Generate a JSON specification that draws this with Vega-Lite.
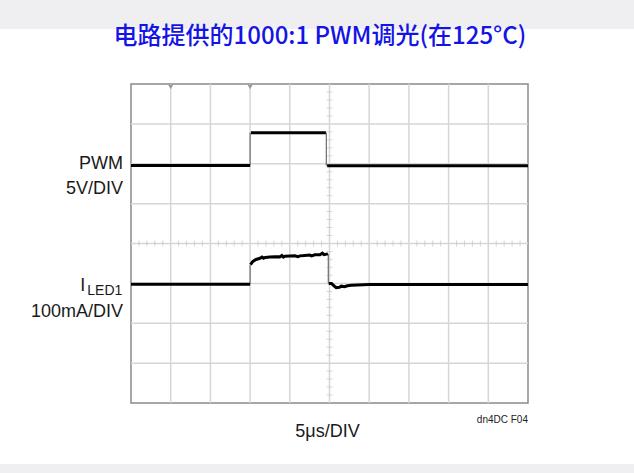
{
  "$schema": "https://vega.github.io/schema/vega-lite/v6.json",
  "autosize": "none",
  "width": 397,
  "height": 319,
  "padding": {"left": 131, "top": 84, "right": 106, "bottom": 70},
  "background": "white",
  "config": {
    "view": {"stroke": "#8a8a8a", "strokeWidth": 1.5}
  },
  "datasets": {
    "traces": [
      {"seg": "pwm_a", "x": 0, "y": 5.956},
      {"seg": "pwm_a", "x": 3.0, "y": 5.956},
      {"seg": "pwm_b", "x": 3.02, "y": 6.78},
      {"seg": "pwm_b", "x": 4.91, "y": 6.78},
      {"seg": "pwm_c", "x": 4.94, "y": 5.952},
      {"seg": "pwm_c", "x": 10, "y": 5.952},
      {"seg": "led_a", "x": 0, "y": 2.977},
      {"seg": "led_a", "x": 3.0, "y": 2.977},
      {"seg": "led_b", "x": 3.01, "y": 3.47},
      {"seg": "led_b", "x": 3.07, "y": 3.55},
      {"seg": "led_b", "x": 3.15, "y": 3.6},
      {"seg": "led_b", "x": 3.25, "y": 3.63},
      {"seg": "led_b", "x": 3.3, "y": 3.66},
      {"seg": "led_b", "x": 3.34, "y": 3.63},
      {"seg": "led_b", "x": 3.38, "y": 3.65},
      {"seg": "led_b", "x": 3.5, "y": 3.66},
      {"seg": "led_b", "x": 3.63, "y": 3.67},
      {"seg": "led_b", "x": 3.75, "y": 3.665},
      {"seg": "led_b", "x": 3.8, "y": 3.7},
      {"seg": "led_b", "x": 3.84, "y": 3.66},
      {"seg": "led_b", "x": 3.88, "y": 3.68},
      {"seg": "led_b", "x": 4.0, "y": 3.685},
      {"seg": "led_b", "x": 4.13, "y": 3.69},
      {"seg": "led_b", "x": 4.2, "y": 3.67},
      {"seg": "led_b", "x": 4.26, "y": 3.69},
      {"seg": "led_b", "x": 4.38, "y": 3.7},
      {"seg": "led_b", "x": 4.5, "y": 3.71},
      {"seg": "led_b", "x": 4.55, "y": 3.69},
      {"seg": "led_b", "x": 4.63, "y": 3.715},
      {"seg": "led_b", "x": 4.76, "y": 3.72},
      {"seg": "led_b", "x": 4.82, "y": 3.76},
      {"seg": "led_b", "x": 4.86, "y": 3.72},
      {"seg": "led_b", "x": 4.96, "y": 3.74},
      {"seg": "led_c", "x": 4.98, "y": 3.0},
      {"seg": "led_c", "x": 5.05, "y": 3.0},
      {"seg": "led_c", "x": 5.12, "y": 2.93},
      {"seg": "led_c", "x": 5.17, "y": 2.89},
      {"seg": "led_c", "x": 5.25, "y": 2.9},
      {"seg": "led_c", "x": 5.3, "y": 2.93},
      {"seg": "led_c", "x": 5.38, "y": 2.915},
      {"seg": "led_c", "x": 5.45, "y": 2.94},
      {"seg": "led_c", "x": 5.55, "y": 2.95},
      {"seg": "led_c", "x": 5.7, "y": 2.96},
      {"seg": "led_c", "x": 6.0, "y": 2.97},
      {"seg": "led_c", "x": 10, "y": 2.972}
    ],
    "edges": [
      {"x": 3.0, "y": 5.956, "y2": 6.78},
      {"x": 4.92, "y": 6.78, "y2": 5.952},
      {"x": 3.0, "y": 2.977, "y2": 3.47},
      {"x": 4.97, "y": 3.74, "y2": 3.0}
    ],
    "gridX": [{"v": 1}, {"v": 2}, {"v": 3}, {"v": 4}, {"v": 5}, {"v": 6}, {"v": 7}, {"v": 8}, {"v": 9}],
    "gridY": [{"v": 1}, {"v": 2}, {"v": 3}, {"v": 4}, {"v": 5}, {"v": 6}, {"v": 7}],
    "minor": [
      {"v": 0.2}, {"v": 0.4}, {"v": 0.6}, {"v": 0.8}, {"v": 1.2}, {"v": 1.4}, {"v": 1.6}, {"v": 1.8},
      {"v": 2.2}, {"v": 2.4}, {"v": 2.6}, {"v": 2.8}, {"v": 3.2}, {"v": 3.4}, {"v": 3.6}, {"v": 3.8},
      {"v": 4.2}, {"v": 4.4}, {"v": 4.6}, {"v": 4.8}, {"v": 5.2}, {"v": 5.4}, {"v": 5.6}, {"v": 5.8},
      {"v": 6.2}, {"v": 6.4}, {"v": 6.6}, {"v": 6.8}, {"v": 7.2}, {"v": 7.4}, {"v": 7.6}, {"v": 7.8},
      {"v": 8.2}, {"v": 8.4}, {"v": 8.6}, {"v": 8.8}, {"v": 9.2}, {"v": 9.4}, {"v": 9.6}, {"v": 9.8}
    ],
    "trig": [{"x": 1}, {"x": 3}],
    "leftLabels": [
      {"t": "PWM", "y": 6.0},
      {"t": "5V/DIV", "y": 5.367},
      {"t": "100mA/DIV", "y": 2.29}
    ]
  },
  "layer": [
    {
      "data": {"values": [{"b": "top"}]},
      "mark": {"type": "rect", "color": "#efeff2", "clip": false},
      "encoding": {
        "x": {"datum": -3.31, "type": "quantitative", "scale": {"domain": [0, 10], "nice": false, "zero": false}, "axis": null},
        "x2": {"datum": 12.67},
        "y": {"datum": 10.11, "type": "quantitative", "scale": {"domain": [0, 8], "nice": false, "zero": false}, "axis": null},
        "y2": {"datum": 9.38}
      }
    },
    {
      "data": {"values": [{"b": "bottom"}]},
      "mark": {"type": "rect", "color": "#efeff2", "clip": false},
      "encoding": {
        "x": {"datum": -3.31, "type": "quantitative", "axis": null},
        "x2": {"datum": 12.67},
        "y": {"datum": -1.53, "type": "quantitative", "axis": null},
        "y2": {"datum": -1.76}
      }
    },
    {
      "data": {"name": "gridX"},
      "mark": {"type": "rule", "color": "#d6d6d6", "strokeWidth": 1.5},
      "encoding": {
        "x": {"field": "v", "type": "quantitative", "axis": null}
      }
    },
    {
      "data": {"name": "gridY"},
      "mark": {"type": "rule", "color": "#d6d6d6", "strokeWidth": 1.5},
      "encoding": {
        "y": {"field": "v", "type": "quantitative", "axis": null}
      }
    },
    {
      "data": {"name": "minor"},
      "mark": {"type": "tick", "orient": "vertical", "color": "#c4c4c4", "size": 6, "thickness": 1},
      "encoding": {
        "x": {"field": "v", "type": "quantitative", "axis": null},
        "y": {"datum": 4, "type": "quantitative", "axis": null}
      }
    },
    {
      "data": {"name": "minor"},
      "transform": [{"filter": "datum.v < 8"}],
      "mark": {"type": "tick", "orient": "horizontal", "color": "#c4c4c4", "size": 6, "thickness": 1},
      "encoding": {
        "x": {"datum": 5, "type": "quantitative", "axis": null},
        "y": {"field": "v", "type": "quantitative", "axis": null}
      }
    },
    {
      "data": {"name": "trig"},
      "mark": {"type": "point", "shape": "triangle-down", "filled": true, "color": "#9a9a9a", "size": 30, "opacity": 1},
      "encoding": {
        "x": {"field": "x", "type": "quantitative", "axis": null},
        "y": {"datum": 7.93, "type": "quantitative", "axis": null}
      }
    },
    {
      "data": {"name": "edges"},
      "mark": {"type": "rule", "color": "#6e6e6e", "strokeWidth": 1.2},
      "encoding": {
        "x": {"field": "x", "type": "quantitative", "axis": null},
        "y": {"field": "y", "type": "quantitative", "axis": null},
        "y2": {"field": "y2"}
      }
    },
    {
      "data": {"name": "traces"},
      "mark": {"type": "line", "color": "#000000", "strokeJoin": "miter", "interpolate": "linear"},
      "encoding": {
        "x": {"field": "x", "type": "quantitative", "axis": null},
        "y": {"field": "y", "type": "quantitative", "axis": null},
        "detail": {"field": "seg", "type": "nominal"},
        "strokeWidth": {
          "field": "seg",
          "type": "nominal",
          "scale": {"domain": ["pwm_a", "pwm_b", "pwm_c", "led_a", "led_b", "led_c"], "range": [3, 3, 3, 4, 2, 3]},
          "legend": null
        }
      }
    },
    {
      "data": {"name": "leftLabels"},
      "mark": {"type": "text", "font": "Liberation Sans", "fontSize": 18, "color": "#1a1a1a", "baseline": "middle", "align": "right"},
      "encoding": {
        "x": {"datum": -0.2, "type": "quantitative", "axis": null},
        "y": {"field": "y", "type": "quantitative", "axis": null},
        "text": {"field": "t"}
      }
    },
    {
      "data": {"values": [{"t": "5μs/DIV"}]},
      "mark": {"type": "text", "font": "Liberation Sans", "fontSize": 18, "color": "#1a1a1a", "baseline": "middle", "align": "center"},
      "encoding": {
        "x": {"datum": 4.95, "type": "quantitative", "axis": null},
        "y": {"datum": -0.727, "type": "quantitative", "axis": null},
        "text": {"field": "t"}
      }
    },
    {
      "data": {"values": [{"t": "I"}]},
      "mark": {"type": "text", "font": "Liberation Sans", "fontSize": 18, "color": "#1a1a1a", "baseline": "middle", "align": "right"},
      "encoding": {
        "x": {"datum": -1.15, "type": "quantitative", "axis": null},
        "y": {"datum": 2.934, "type": "quantitative", "axis": null},
        "text": {"field": "t"}
      }
    },
    {
      "data": {"values": [{"t": "LED1"}]},
      "mark": {"type": "text", "font": "Liberation Sans", "fontSize": 14, "color": "#1a1a1a", "baseline": "middle", "align": "left"},
      "encoding": {
        "x": {"datum": -1.1, "type": "quantitative", "axis": null},
        "y": {"datum": 2.81, "type": "quantitative", "axis": null},
        "text": {"field": "t"}
      }
    },
    {
      "data": {"values": [{"t": "dn4DC F04"}]},
      "mark": {"type": "text", "font": "Liberation Sans", "fontSize": 10, "color": "#222222", "baseline": "middle", "align": "right"},
      "encoding": {
        "x": {"datum": 10, "type": "quantitative", "axis": null},
        "y": {"datum": -0.426, "type": "quantitative", "axis": null},
        "text": {"field": "t"}
      }
    },
    {
      "data": {"values": [{"t": "电路提供的1000:1 PWM调光(在125°C)"}]},
      "mark": {"type": "text", "font": "Noto Sans CJK SC", "fontSize": 24, "fontWeight": 500, "color": "#1414e6", "baseline": "alphabetic", "align": "center"},
      "encoding": {
        "x": {"datum": 4.76, "type": "quantitative", "axis": null},
        "y": {"datum": 9.0, "type": "quantitative", "axis": null},
        "text": {"field": "t"}
      }
    }
  ]
}
